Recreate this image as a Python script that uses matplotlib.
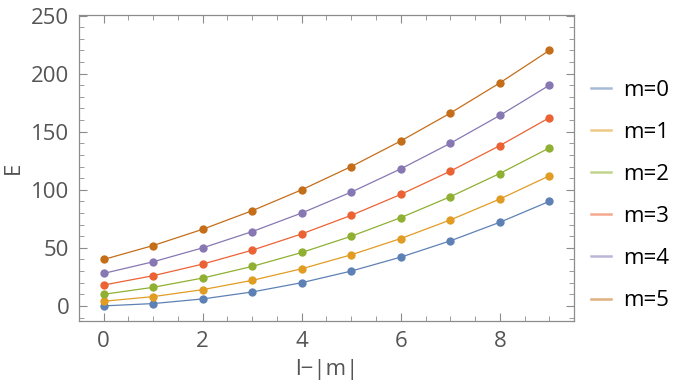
import matplotlib
matplotlib.use("Agg")
import matplotlib.pyplot as plt
from matplotlib.ticker import MultipleLocator

plt.rcParams['font.family'] = ['Open Sans', 'DejaVu Sans']

n = [0, 1, 2, 3, 4, 5, 6, 7, 8, 9]
labels = ["m=0", "m=1", "m=2", "m=3", "m=4", "m=5"]
E_m0 = [0, 2, 6, 12, 20, 30, 42, 56, 72, 90]
E_m1 = [4, 8, 14, 22, 32, 44, 58, 74, 92, 112]
E_m2 = [10, 16, 24, 34, 46, 60, 76, 94, 114, 136]
E_m3 = [18, 26, 36, 48, 62, 78, 96, 116, 138, 162]
E_m4 = [28, 38, 50, 64, 80, 98, 118, 140, 164, 190]
E_m5 = [40, 52, 66, 82, 100, 120, 142, 166, 192, 220]
series = [E_m0, E_m1, E_m2, E_m3, E_m4, E_m5]
colors = ["#5E81B5", "#E19C24", "#8FB032", "#EB6235", "#8778B3", "#C56E1A"]

fig = plt.figure(figsize=(6.79, 3.88), dpi=100)
ax = fig.add_axes([0.1163, 0.1727, 0.7291, 0.7886])

for ys, c, lab in zip(series, colors, labels):
    ax.plot(n, ys, color=c, lw=0.9, zorder=2)
    ax.plot(n, ys, 'o', color=c, ms=6, mec='none', zorder=3)
    ax.plot([], [], color=c, lw=1.8, alpha=0.55, label=lab)

ax.set_xlim(-0.5, 9.5)
ax.set_ylim(-13, 250.5)
ax.xaxis.set_major_locator(MultipleLocator(2))
ax.xaxis.set_minor_locator(MultipleLocator(0.5))
ax.yaxis.set_major_locator(MultipleLocator(50))
ax.yaxis.set_minor_locator(MultipleLocator(10))

gray = "#555555"
for s in ax.spines.values():
    s.set_color("#8c8c8c")
    s.set_linewidth(0.9)
ax.tick_params(which='both', direction='in', top=True, right=True,
               color="#8c8c8c", labelcolor=gray, labelsize=16, pad=7)
ax.tick_params(which='major', length=6, width=0.8)
ax.tick_params(which='minor', length=3.5, width=0.6)

ax.set_xlabel("l\u2212|m|", fontsize=16, color=gray, labelpad=5)
ax.set_ylabel("E", fontsize=16, color=gray, rotation=90, labelpad=5)

leg = ax.legend(loc='center left', bbox_to_anchor=(1.0, 0.41), frameon=False,
                fontsize=16, handlelength=0.9, handletextpad=0.55,
                labelspacing=0.95, borderaxespad=0.35)

fig.savefig("out.png", dpi=100)
